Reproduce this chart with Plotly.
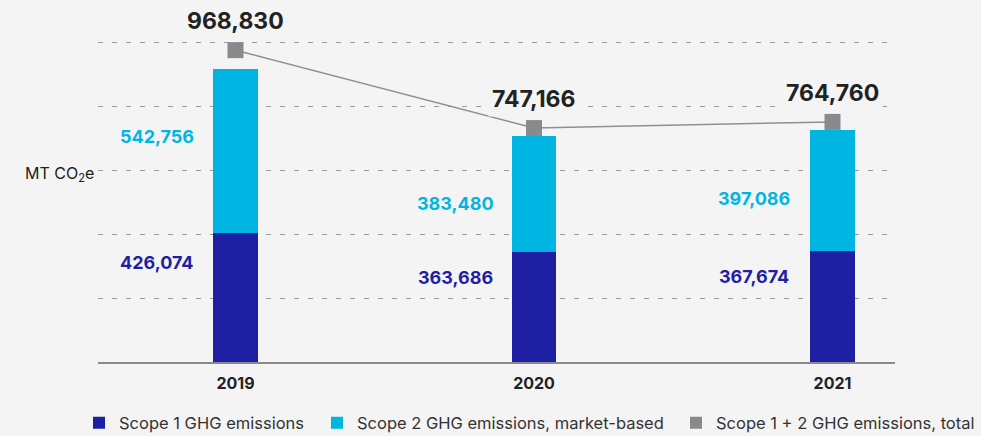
import plotly.graph_objects as go

# ---- data ----
years = ["2019", "2020", "2021"]
scope1 = [426074, 363686, 367674]
scope2 = [542756, 383480, 397086]
total = [968830, 747166, 764760]

scope1_name = "Scope 1 GHG emissions"
scope2_name = "Scope 2 GHG emissions, market-based"
total_name = "Scope 1 + 2 GHG emissions, total"
y_title = "MT CO<sub>2</sub>e"

# ---- style ----
BG = "#f4f4f4"
NAVY = "#1f1fa4"
CYAN = "#00b5e2"
GRAY_MARK = "#898a8d"
GRAY_LINE = "#8f8f8f"
TXT = "#222222"
FONT = "Inter"
grid_step = 211400

fig = go.Figure()

fig.add_trace(go.Bar(x=years, y=scope1, name=scope1_name, marker_color=NAVY,
                     width=0.148, marker_line_width=0, legend="legend"))
fig.add_trace(go.Bar(x=years, y=scope2, name=scope2_name, marker_color=CYAN,
                     width=0.148, marker_line_width=0, legend="legend2"))
fig.add_trace(go.Scatter(x=years, y=total, yaxis="y2", mode="lines",
                         line=dict(color=GRAY_LINE, width=1.5),
                         showlegend=False, hoverinfo="skip"))
fig.add_trace(go.Scatter(x=years, y=total, yaxis="y2", mode="markers",
                         name=total_name, cliponaxis=False, legend="legend3",
                         marker=dict(symbol="square", size=16, color=GRAY_MARK)))

annotations = []
for i, (s1, s2, t) in enumerate(zip(scope1, scope2, total)):
    annotations.append(dict(x=i, y=t, xref="x", yref="y2", yshift=29,
                            text=f"<b>{t:,}</b>", showarrow=False,
                            font=dict(size=23, color=TXT, family=FONT),
                            bgcolor=BG, borderpad=3))
    annotations.append(dict(x=i, y=s1 * 0.77, xref="x", yref="y", xshift=-78,
                            text=f"<b>{s1:,}</b>", showarrow=False,
                            font=dict(size=18, color=NAVY, family=FONT)))
    annotations.append(dict(x=i, y=s1 + s2, xref="x", yref="y", xshift=-78,
                            yshift=-68, text=f"<b>{s2:,}</b>", showarrow=False,
                            font=dict(size=18, color=CYAN, family=FONT)))

annotations.append(dict(x=-0.094, y=0.534, xref="paper", yref="paper",
                        xanchor="left", yanchor="middle", text=y_title,
                        showarrow=False, font=dict(size=16, color=TXT, family=FONT)))

legend_common = dict(orientation="h", xref="container", yref="container",
                     y=0.03, xanchor="left", yanchor="middle",
                     font=dict(size=16.5, color="#333333", family=FONT),
                     itemwidth=30, bgcolor="rgba(0,0,0,0)")

fig.update_layout(
    width=981, height=436,
    margin=dict(l=98, r=86, t=10, b=74),
    paper_bgcolor=BG, plot_bgcolor=BG,
    barmode="stack",
    font=dict(family=FONT, color=TXT),
    showlegend=True,
    legend=dict(legend_common, x=79 / 981),
    legend2=dict(legend_common, x=317 / 981),
    legend3=dict(legend_common, x=676 / 981, itemsizing="constant"),
    xaxis=dict(type="category", range=[-0.4606, 2.2094], showgrid=False,
               showline=True, linecolor="#8a8a8a", linewidth=2, ticks="",
               ticklabelstandoff=6,
               tickfont=dict(size=16, color=TXT, family=FONT, weight=700)),
    yaxis=dict(range=[0, grid_step * 5.5], tick0=0, dtick=grid_step,
               showticklabels=False, showgrid=True, gridcolor="#9a9a9a",
               griddash="5px,9px", gridwidth=1, zeroline=False, ticks=""),
    yaxis2=dict(range=[82000, 1083000], overlaying="y", visible=False),
    annotations=annotations,
)

fig.write_html("out.html",
               config={"displayModeBar": False},
               post_script="document.body.style.margin='0';"
                           "document.body.style.background='#f4f4f4';")
